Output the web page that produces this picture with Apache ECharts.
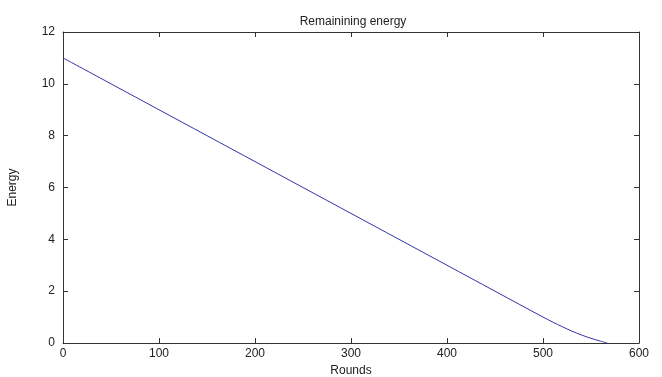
<!DOCTYPE html>
<html><head><meta charset="utf-8">
<script src="https://cdn.jsdelivr.net/npm/echarts@6/dist/echarts.min.js"></script>
<style>html,body{margin:0;padding:0;background:#fff}#c{width:662px;height:377px}</style>
</head><body><div id="c"></div>
<script>
var rounds = [0, 100, 200, 300, 400, 500, 510, 520, 530, 540, 550, 560, 567];
var energy = [11, 9, 7, 5, 3, 1, 0.81, 0.63, 0.46, 0.31, 0.18, 0.07, 0];
var xTicks = [0, 100, 200, 300, 400, 500, 600];
var yTicks = [0, 2, 4, 6, 8, 10, 12];

var chart = echarts.init(document.getElementById('c'));
var font = 'Liberation Sans, Arial, sans-serif';
var axisLine = {show: true, onZero: false, lineStyle: {color: '#333', width: 1}};
var tick = {show: true, inside: true, length: 5, lineStyle: {color: '#333'}};
chart.setOption({
  animation: false,
  title: {text: 'Remainining energy', left: 348, top: 11, textAlign: 'center',
    textStyle: {fontFamily: font, fontSize: 12, fontWeight: 'normal', color: '#222'}},
  grid: {left: 63, right: 23, top: 32, bottom: 34, containLabel: false, outerBoundsMode: 'none'},
  xAxis: [{
    type: 'value', min: 0, max: 600, interval: 100, position: 'bottom',
    name: 'Rounds', nameLocation: 'middle', nameGap: 20,
    nameTextStyle: {fontFamily: font, fontSize: 12, color: '#222'},
    axisLine: axisLine, axisTick: tick, splitLine: {show: false},
    axisLabel: {fontFamily: font, fontSize: 12, color: '#222', margin: 5}
  }, {
    type: 'value', min: 0, max: 600, interval: 100, position: 'top',
    axisLine: axisLine, axisTick: tick, splitLine: {show: false},
    axisLabel: {show: false}
  }],
  yAxis: [{
    type: 'value', min: 0, max: 12, interval: 2, position: 'left',
    name: 'Energy', nameLocation: 'middle', nameGap: 44, nameRotate: 90,
    nameTextStyle: {fontFamily: font, fontSize: 12, color: '#222'},
    axisLine: axisLine, axisTick: tick, splitLine: {show: false},
    axisLabel: {fontFamily: font, fontSize: 12, color: '#222', margin: 8}
  }, {
    type: 'value', min: 0, max: 12, interval: 2, position: 'right',
    axisLine: axisLine, axisTick: tick, splitLine: {show: false},
    axisLabel: {show: false}
  }],
  series: [{
    type: 'line', xAxisIndex: 0, yAxisIndex: 0, showSymbol: false, smooth: 0.3,
    lineStyle: {color: '#3333aa', width: 1},
    data: rounds.map(function (r, i) { return [r, energy[i]]; })
  }]
});
</script></body></html>
